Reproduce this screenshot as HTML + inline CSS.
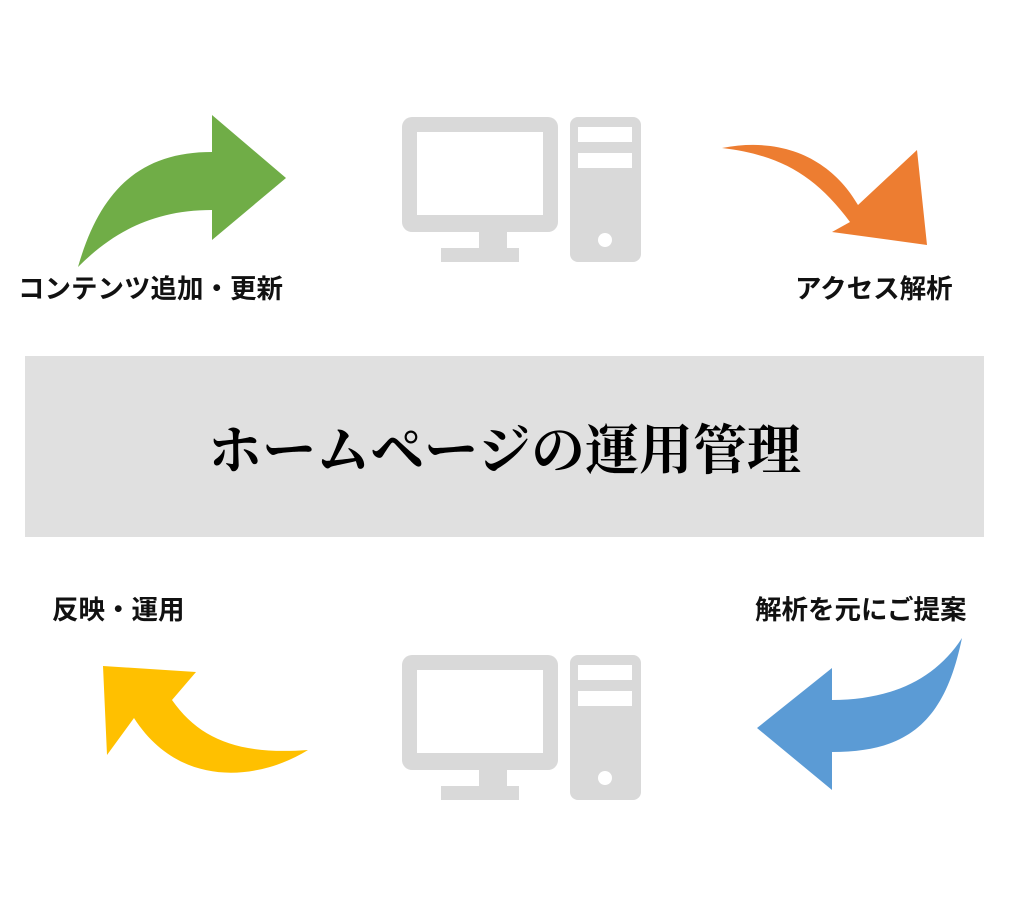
<!DOCTYPE html>
<html><head><meta charset="utf-8"><style>
body{margin:0;width:1024px;height:904px;background:#fff;position:relative;overflow:hidden;font-family:"Liberation Sans","Noto Sans CJK JP",sans-serif}
.l{position:absolute;font-size:26.5px;font-weight:bold;color:#111;white-space:nowrap;line-height:30px}
.box{position:absolute;left:25px;top:356px;width:959px;height:181px;background:#e0e0e0;display:flex;align-items:center;justify-content:center;font-family:"Liberation Serif","Noto Serif CJK SC",serif;font-size:54px;font-weight:bold;color:#000}
</style></head><body>
<svg width="1024" height="904" style="position:absolute;left:0;top:0">
<defs><g id="pc" fill="#d9d9d9">
<rect x="402" y="117" width="156" height="115" rx="10"/>
<rect x="479" y="230" width="28" height="20"/>
<rect x="441" y="248" width="78" height="14"/>
<rect x="570" y="117" width="71" height="145" rx="8"/>
<rect x="417" y="132" width="126" height="83" fill="#fff"/>
<rect x="578" y="127" width="54" height="15" fill="#fff"/>
<rect x="578" y="153" width="54" height="15" fill="#fff"/>
<ellipse cx="605" cy="240" rx="7" ry="7" fill="#fff"/>
</g></defs>
<use href="#pc"/>
<use href="#pc" y="538"/>
<path fill="#70ad47" d="M78,267 C100,190 140,152 212,152 L212,115 L286,178 L212,240 L212,210 C150,210 110,235 78,267Z"/>
<path fill="#ed7d31" d="M722,148 C790,135 835,165 858,205 L917,150 L927,245 L832,232 L850,222 C815,175 780,155 722,148Z"/>
<path fill="#ffc000" d="M308,750 C260,780 180,790 134,718 L107,755 L103,666 L196,672 L172,700 C200,740 240,755 308,750Z"/>
<path fill="#5b9bd5" d="M962,638 C945,720 910,752 832,752 L832,790 L757,728 L832,668 L832,700 C890,700 935,680 962,638Z"/>
</svg>
<div class="l" style="left:18px;top:274px">コンテンツ追加・更新</div>
<div class="l" style="left:795px;top:274px">アクセス解析</div>
<div class="l" style="left:52px;top:595px">反映・運用</div>
<div class="l" style="left:755px;top:595px">解析を元にご提案</div>
<div class="box">ホームページの運用管理</div>
</body></html>
